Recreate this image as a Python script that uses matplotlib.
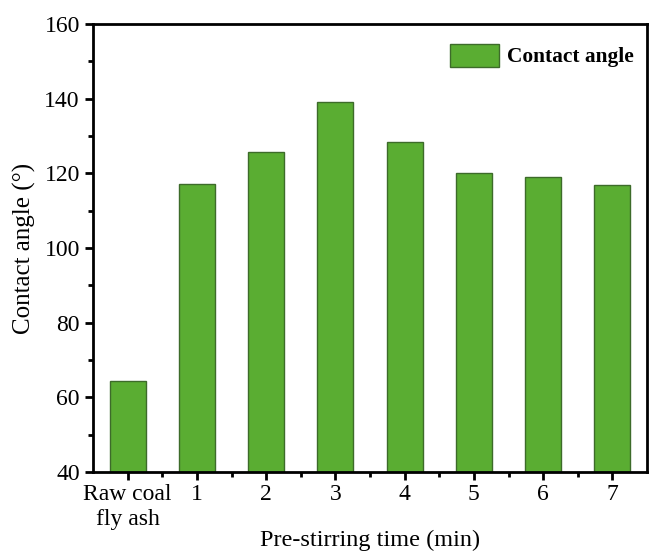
import matplotlib
matplotlib.use("Agg")
import matplotlib.pyplot as plt
from matplotlib.ticker import MultipleLocator

categories = ["Raw coal\nfly ash", "1", "2", "3", "4", "5", "6", "7"]
contact_angle = [64.5, 117.1, 125.7, 139.1, 128.4, 120.0, 118.9, 117.0]

plt.rcParams['font.family'] = ['Liberation Serif', 'DejaVu Serif']

fig = plt.figure(figsize=(6.5, 5.52), dpi=100)
ax = fig.add_axes([93/650, 1-472/552, (647-93)/650, (472-24)/552])

x = list(range(len(categories)))
ax.bar(x, contact_angle, width=0.52, color='#5aad32', edgecolor='#3d6b2a',
       linewidth=1.0, label='Contact angle', zorder=2)

ax.set_xlim(-0.5, 7.5)
ax.set_ylim(40, 160)
ax.set_xticks(x)
ax.set_xticklabels(categories, fontsize=17)
ax.set_xticks([i + 0.5 for i in x[:-1]], minor=True)
ax.yaxis.set_major_locator(MultipleLocator(20))
ax.yaxis.set_minor_locator(MultipleLocator(10))
ax.tick_params(axis='y', labelsize=17)
ax.tick_params(which='major', direction='out', length=6, width=2)
ax.tick_params(which='minor', direction='out', length=3.5, width=2)
ax.tick_params(axis='x', which='major', pad=3)
for s in ax.spines.values():
    s.set_linewidth(2)

ax.set_ylabel('Contact angle (°)', fontsize=18, labelpad=6)
ax.set_xlabel('Pre-stirring time (min)', fontsize=17.5, labelpad=0)

leg = ax.legend(loc='upper right', bbox_to_anchor=(1.0, 0.985), frameon=False,
                prop={'weight': 'bold', 'size': 15.4},
                handlelength=2.3, handleheight=1.3, handletextpad=0.4,
                borderaxespad=0.2)

fig.savefig('out.png', dpi=100)
